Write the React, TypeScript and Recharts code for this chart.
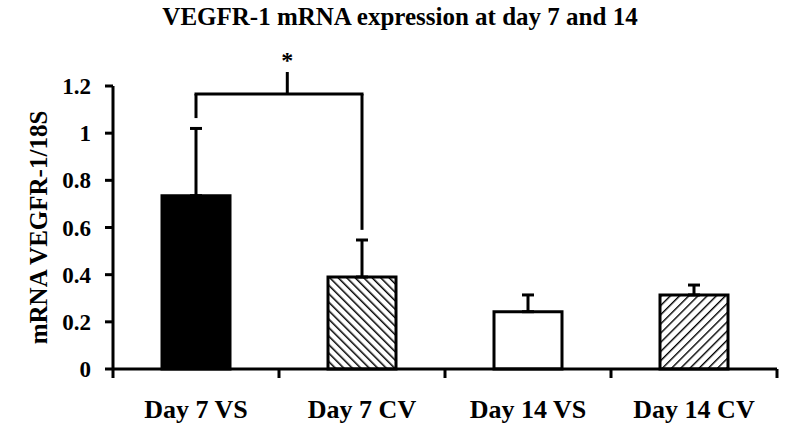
import React from 'react';
import {
  BarChart, Bar, XAxis, YAxis, Cell, ErrorBar, ReferenceLine, Label
} from 'recharts';

// values
const categories = ['Day 7 VS', 'Day 7 CV', 'Day 14 VS', 'Day 14 CV'];
const means = [0.735, 0.39, 0.243, 0.314];
const sdUpper = [0.285, 0.157, 0.071, 0.042];
const fills = ['#000000', 'url(#hatchBack)', '#ffffff', 'url(#hatchFwd)'];
const yTicks = [0, 0.2, 0.4, 0.6, 0.8, 1, 1.2];

// significance bracket between Day 7 VS and Day 7 CV
const bracketFrom = 'Day 7 VS';
const bracketTo = 'Day 7 CV';
const bracketY = 1.166;
const bracketFeet = [1.064, 0.59];
const starFrac = 0.55; // where the '*' stem sits along the bracket

const data = categories.map((name, i) => ({
  name,
  mean: means[i],
  err: [0, sdUpper[i]],
}));

const fontFamily = '"Liberation Serif", "Times New Roman", serif';
const font = { fontFamily, fontWeight: 700, fill: '#000' };

// category label plus tick marks on the band edges, like the original
const CatTick = (props: any) => {
  const { x, y, payload, index, visibleTicksCount } = props;
  const half = payload?.offset || 83;
  const isLast = index === (visibleTicksCount ?? categories.length) - 1;
  return (
    <g>
      <line x1={x - half} y1={y} x2={x - half} y2={y + 9} stroke="#000" strokeWidth={3} />
      {isLast && <line x1={x + half} y1={y} x2={x + half} y2={y + 9} stroke="#000" strokeWidth={3} />}
      <text x={x} y={y + 31} dy="0.71em" textAnchor="middle" {...font} fontSize={26}>
        {payload.value}
      </text>
    </g>
  );
};

const BracketShape = (props: any) => {
  const { x1, y1, x2 } = props;
  const sx = x1 + (x2 - x1) * starFrac;
  return (
    <g>
      <line x1={x1 - 1.5} y1={y1} x2={x2 + 1.5} y2={y1} stroke="#000" strokeWidth={3} />
      <line x1={sx} y1={y1} x2={sx} y2={y1 - 22} stroke="#000" strokeWidth={3} />
      <text x={sx} y={y1 - 26} textAnchor="middle" {...font} fontSize={24}>*</text>
    </g>
  );
};

const App: React.FC = () => {
  return (
    <div style={{ position: 'relative', width: 800, height: 437, background: '#fff' }}>
      <style>{'body{margin:0}'}</style>
      <svg width={0} height={0} style={{ position: 'absolute' }}>
        <defs>
          <pattern id="hatchBack" patternUnits="userSpaceOnUse" width={6} height={6} patternTransform="rotate(-45)">
            <rect width={6} height={6} fill="#fff" />
            <line x1={0} y1={0} x2={0} y2={6} stroke="#000" strokeWidth={3} />
          </pattern>
          <pattern id="hatchFwd" patternUnits="userSpaceOnUse" width={6.5} height={6.5} patternTransform="rotate(45)">
            <rect width={6.5} height={6.5} fill="#fff" />
            <line x1={0} y1={0} x2={0} y2={6.5} stroke="#000" strokeWidth={2.8} />
          </pattern>
        </defs>
      </svg>
      <div
        style={{
          position: 'absolute', top: 3, left: 0, width: 800, textAlign: 'center',
          fontFamily, fontWeight: 700, fontSize: 25, color: '#000',
        }}
      >
        VEGFR-1 mRNA expression at day 7 and 14
      </div>
      <BarChart width={800} height={437} data={data} margin={{ top: 86, right: 23, bottom: 0, left: 0 }}>
        <XAxis
          dataKey="name"
          height={68}
          axisLine={{ stroke: '#000', strokeWidth: 3 }}
          tickLine={false}
          tickSize={0}
          tickMargin={0}
          interval={0}
          tick={<CatTick />}
        />
        <YAxis
          width={113}
          domain={[0, 1.2]}
          ticks={yTicks}
          interval={0}
          tickSize={8}
          tickMargin={14}
          axisLine={{ stroke: '#000', strokeWidth: 3 }}
          tickLine={{ stroke: '#000', strokeWidth: 3 }}
          tick={{ ...font, fontSize: 23 }}
        >
          <Label
            value="mRNA VEGFR-1/18S"
            angle={-90}
            position="insideLeft"
            offset={38}
            textAnchor="middle"
            style={{ ...font, fontSize: 25 }}
          />
        </YAxis>
        <Bar dataKey="mean" barSize={68} stroke="#000" strokeWidth={3} isAnimationActive={false}>
          {data.map((d, i) => (
            <Cell key={d.name} fill={fills[i]} />
          ))}
          <ErrorBar dataKey="err" direction="y" width={6} stroke="#000" strokeWidth={3} isAnimationActive={false} />
        </Bar>
        <ReferenceLine
          segment={[{ x: bracketFrom, y: bracketY }, { x: bracketTo, y: bracketY }]}
          ifOverflow="visible"
          shape={<BracketShape />}
        />
        <ReferenceLine
          segment={[{ x: bracketFrom, y: bracketY }, { x: bracketFrom, y: bracketFeet[0] }]}
          stroke="#000"
          strokeWidth={3}
          ifOverflow="visible"
        />
        <ReferenceLine
          segment={[{ x: bracketTo, y: bracketY }, { x: bracketTo, y: bracketFeet[1] }]}
          stroke="#000"
          strokeWidth={3}
          ifOverflow="visible"
        />
      </BarChart>
    </div>
  );
};

export default App;
